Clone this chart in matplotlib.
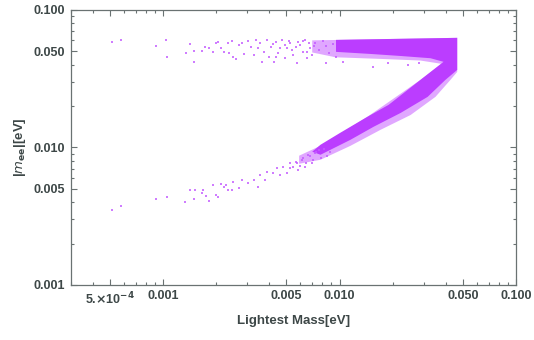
import matplotlib
matplotlib.use('Agg')
import matplotlib.pyplot as plt
from matplotlib.ticker import FixedLocator, FixedFormatter, NullFormatter

plt.rcParams['font.family'] = ['Liberation Sans', 'DejaVu Sans']
plt.rcParams['mathtext.default'] = 'bf'

PURPLE = '#BB3DFF'
DOTS = '#C45CFF'
TXT = '#3d4747'
FRAME = '#6a7272'

# dense part of the scan: outline of the "<" shaped band (eV)
core_mass = [9.55e-3, 4.65e-2, 4.65e-2, 3.99e-2, 3.16e-2, 2.22e-2, 1.56e-2,
             1.154e-2, 7.80e-3, 7.0e-3, 7.80e-3, 1.01e-2, 1.44e-2,
             1.90e-2, 2.88e-2, 3.89e-2, 3.28e-2, 2.22e-2, 1.50e-2, 9.55e-3]
core_mee = [0.0605, 0.0626, 0.0366, 0.0310, 0.0233, 0.0178, 0.01412,
            0.01136, 0.00884, 0.0093, 0.01045, 0.01277, 0.0167,
            0.0204, 0.0310, 0.0419, 0.0445, 0.0462, 0.0478, 0.0495]

# medium density fringe around it
halo_mass = [7.0e-3, 4.65e-2, 4.65e-2, 4.26e-2, 3.50e-2, 2.53e-2, 1.71e-2,
             1.154e-2, 7.80e-3, 5.9e-3, 5.9e-3, 7.80e-3, 1.01e-2, 1.44e-2,
             2.88e-2, 3.79e-2, 2.88e-2, 1.71e-2, 9.5e-3, 7.0e-3]
halo_mee = [0.0600, 0.0626, 0.0354, 0.0310, 0.0233, 0.0172, 0.01343,
            0.01027, 0.00813, 0.00760, 0.00870, 0.01027, 0.01256, 0.0167,
            0.0310, 0.0405, 0.0428, 0.0440, 0.0452, 0.0490]

# sparse points, upper branch
upper_mass = [5.09e-4, 5.73e-4, 9.05e-4, 1.04e-3, 1.054e-3, 1.35e-3, 1.41e-3,
              1.49e-3, 1.49e-3, 1.65e-3, 1.72e-3, 1.83e-3, 1.91e-3, 1.98e-3,
              2.04e-3, 2.14e-3, 2.20e-3, 2.33e-3, 2.36e-3, 2.46e-3, 2.49e-3,
              2.60e-3, 2.68e-3, 2.81e-3, 2.89e-3, 3.01e-3, 3.13e-3, 3.26e-3,
              3.34e-3, 3.43e-3, 3.56e-3, 3.61e-3, 3.71e-3, 3.90e-3, 3.96e-3,
              4.06e-3, 4.24e-3, 4.35e-3, 4.50e-3, 4.74e-3, 4.93e-3, 5.06e-3,
              5.27e-3, 5.48e-3, 5.77e-3, 5.85e-3, 6.24e-3, 6.57e-3, 8.33e-3,
              1.05e-2, 1.54e-2, 1.88e-2, 2.43e-2, 2.81e-2,
              6.00e-3, 6.41e-3, 6.84e-3, 7.02e-3, 7.3e-3, 7.6e-3, 8.1e-3,
              8.33e-3, 8.7e-3, 9.2e-3, 9.55e-3, 6.5e-3, 5.63e-3, 5.4e-3,
              4.93e-3, 4.62e-3, 4.38e-3, 4.17e-3,
              6.2e-3, 6.7e-3, 5.2e-3, 7.2e-3]
upper_mee = [0.0588, 0.0600, 0.0545, 0.0600, 0.0455, 0.0487, 0.0566,
             0.0419, 0.0503, 0.0503, 0.0538, 0.0529, 0.0495, 0.0576,
             0.0585, 0.0529, 0.0495, 0.0576, 0.0487, 0.0595, 0.0455,
             0.0440, 0.0556, 0.0576, 0.0479, 0.0595, 0.0538, 0.0471,
             0.0605, 0.0529, 0.0576, 0.0419, 0.0495, 0.0605, 0.0455,
             0.0538, 0.0419, 0.0585, 0.0487, 0.0605, 0.0448, 0.0529,
             0.0576, 0.0471, 0.0412, 0.0585, 0.0495, 0.0448, 0.0412,
             0.0419, 0.0385, 0.0412, 0.0398, 0.0412,
             0.0556, 0.0605, 0.0529, 0.0471, 0.0576, 0.0512, 0.0595,
             0.0547, 0.0487, 0.0566, 0.0455, 0.0495, 0.0538, 0.0512,
             0.0556, 0.0529, 0.0455, 0.0566,
             0.0590, 0.0575, 0.0590, 0.0545]

# sparse points, lower branch
lower_mass = [5.09e-4, 5.73e-4, 9.05e-4, 1.054e-3, 1.335e-3, 1.41e-3, 1.49e-3,
              1.51e-3, 1.65e-3, 1.69e-3, 1.74e-3, 1.83e-3, 1.91e-3, 1.98e-3,
              2.04e-3, 2.14e-3, 2.20e-3, 2.26e-3, 2.33e-3, 2.46e-3, 2.49e-3,
              2.68e-3, 2.81e-3, 3.01e-3, 3.26e-3, 3.43e-3, 3.56e-3, 3.80e-3,
              3.90e-3, 4.17e-3, 4.44e-3, 4.62e-3, 4.80e-3, 5.06e-3, 5.27e-3,
              5.48e-3, 5.77e-3, 5.85e-3, 6.16e-3, 6.40e-3, 6.65e-3, 7.0e-3,
              7.3e-3, 7.6e-3,
              5.27e-3, 5.63e-3, 6.0e-3, 6.24e-3, 6.48e-3, 6.84e-3, 7.1e-3,
              7.4e-3, 7.8e-3, 8.2e-3, 8.45e-3, 8.88e-3]
lower_mee = [0.00350, 0.00372, 0.00423, 0.00437, 0.00402, 0.00492, 0.00423,
             0.00492, 0.00468, 0.00492, 0.00445, 0.00409, 0.00535, 0.00453,
             0.00437, 0.00544, 0.00517, 0.00535, 0.00492, 0.00492, 0.00563,
             0.00509, 0.00582, 0.00553, 0.00582, 0.00517, 0.00633, 0.00582,
             0.00665, 0.00654, 0.00712, 0.00633, 0.00723, 0.00654, 0.00773,
             0.00723, 0.00773, 0.00688, 0.00813, 0.00723, 0.00884, 0.00773,
             0.00914, 0.00961,
             0.00712, 0.00786, 0.00734, 0.00841, 0.00773, 0.00870, 0.00813,
             0.00930, 0.00841, 0.00977, 0.00870, 0.00930]

x_ticks = [5e-4, 1e-3, 5e-3, 1e-2, 5e-2, 1e-1]
x_labels = [r'5.$\times$10$^{-4}$', '0.001', '0.005', '0.010', '0.050', '0.100']
y_ticks = [1e-3, 5e-3, 1e-2, 5e-2, 1e-1]
y_labels = ['0.001', '0.005', '0.010', '0.050', '0.100']

fig = plt.figure(figsize=(5.34, 3.40), dpi=100)
ax = fig.add_axes([0.133, 0.162, 0.833, 0.809])
ax.set_xscale('log')
ax.set_yscale('log')

ax.fill(halo_mass, halo_mee, color=PURPLE, alpha=0.45, lw=0)
ax.fill(core_mass, core_mee, color=PURPLE, alpha=1.0, lw=0)
ax.scatter(upper_mass, upper_mee, s=4, marker='s', color=DOTS,
           alpha=0.8, linewidths=0)
ax.scatter(lower_mass, lower_mee, s=4, marker='s', color=DOTS,
           alpha=0.8, linewidths=0)

ax.set_xlim(3.0e-4, 0.1)
ax.set_ylim(1e-3, 0.1)

minor = [m * d for d in (1e-4, 1e-3, 1e-2) for m in range(2, 10)]
ax.xaxis.set_major_locator(FixedLocator(x_ticks))
ax.xaxis.set_major_formatter(FixedFormatter(x_labels))
ax.xaxis.set_minor_locator(FixedLocator([v for v in minor if v not in x_ticks]))
ax.xaxis.set_minor_formatter(NullFormatter())
ax.yaxis.set_major_locator(FixedLocator(y_ticks))
ax.yaxis.set_major_formatter(FixedFormatter(y_labels))
ax.yaxis.set_minor_locator(FixedLocator([v for v in minor if v not in y_ticks]))
ax.yaxis.set_minor_formatter(NullFormatter())

ax.tick_params(which='both', direction='in', top=True, right=True,
               color=FRAME, width=0.8, labelcolor=TXT, labelsize=9)
ax.tick_params(which='major', length=4.5, pad=4)
ax.tick_params(which='minor', length=2.5)
for lab in ax.get_xticklabels() + ax.get_yticklabels():
    lab.set_fontweight('bold')
for sp in ax.spines.values():
    sp.set_color(FRAME)
    sp.set_linewidth(0.9)

ax.set_xlabel('Lightest Mass[eV]', fontsize=9.5, fontweight='bold',
              color=TXT, labelpad=6)
ax.set_ylabel(r'|$\mathit{m}_{ee}$|[eV]', fontsize=9.5, fontweight='bold',
              color=TXT, labelpad=4)

fig.savefig('out.png', dpi=100, facecolor='white')
